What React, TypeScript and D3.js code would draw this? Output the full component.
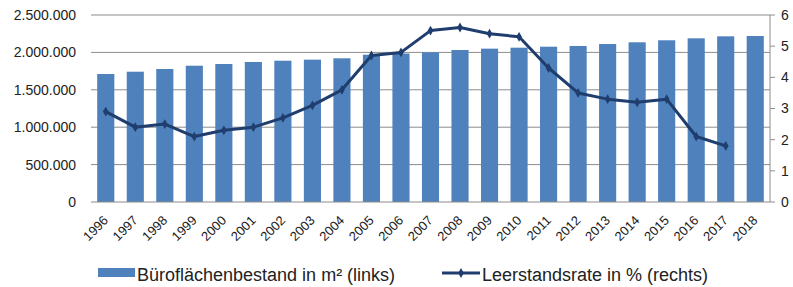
import React from "react";
import * as d3 from "d3";

const years = ["1996","1997","1998","1999","2000","2001","2002","2003","2004","2005","2006","2007","2008","2009","2010","2011","2012","2013","2014","2015","2016","2017","2018"];
const bestand = [1711000,1742000,1778000,1822000,1845000,1872000,1889000,1903000,1921000,1969000,1985000,2001000,2032000,2050000,2063000,2076000,2086000,2112000,2135000,2162000,2188000,2215000,2219000];
const leerstand = [2.9,2.4,2.5,2.1,2.3,2.4,2.7,3.1,3.6,4.7,4.8,5.5,5.6,5.4,5.3,4.3,3.5,3.3,3.2,3.3,2.1,1.8];
const leftTicks = [0,500000,1000000,1500000,2000000,2500000];
const rightTicks = [0,1,2,3,4,5,6];
const legendLabels = ["Büroflächenbestand in m² (links)", "Leerstandsrate in % (rechts)"];

const W = 793, H = 287;
const left = 91, right = 770, top = 15, bottom = 202;
const barColor = "#4F81BD";
const lineColor = "#1F3D6D";
const font = "'Liberation Sans', Arial, sans-serif";

export default function App() {
  const x = d3.scaleBand<string>().domain(years).range([left, right]).paddingInner(0.42).paddingOuter(0.21);
  const yL = d3.scaleLinear().domain([0, 2500000]).range([bottom, top]);
  const yR = d3.scaleLinear().domain([0, 6]).range([bottom, top]);
  const fmt = (v: number) => d3.format(",")(v).replace(/,/g, ".");
  const cx = (y: string) => (x(y) as number) + x.bandwidth() / 2;
  const lineGen = d3.line<number>().x((_, i) => cx(years[i])).y(d => yR(d));
  const diamond = d3.symbol().type(d3.symbolDiamond).size(28)();

  return (
    <svg width={W} height={H} style={{ position: "absolute", left: 0, top: 0 }} fontFamily={font}>
      <rect width={W} height={H} fill="#fff" />
      {leftTicks.slice(1).map(t => (
        <line key={t} x1={left} x2={right} y1={yL(t)} y2={yL(t)} stroke="#8c8c8c" strokeWidth={1} />
      ))}
      {leftTicks.map(t => (
        <text key={t} x={76} y={yL(t)} dy="0.35em" textAnchor="end" fontSize={14} fill="#222">{fmt(t)}</text>
      ))}
      {years.map((y, i) => (
        <rect key={y} x={x(y)} y={yL(bestand[i])} width={x.bandwidth()} height={bottom - yL(bestand[i])} fill={barColor} />
      ))}
      <line x1={left} x2={right} y1={bottom} y2={bottom} stroke="#8c8c8c" strokeWidth={1.2} />
      <line x1={right} x2={right} y1={top} y2={bottom} stroke="#8c8c8c" strokeWidth={1} />
      {rightTicks.map(t => (
        <g key={t}>
          <line x1={right} x2={right + 5} y1={yR(t)} y2={yR(t)} stroke="#8c8c8c" />
          <text x={781} y={yR(t)} dy="0.35em" textAnchor="start" fontSize={14} fill="#222">{t}</text>
        </g>
      ))}
      {years.map(y => (
        <text key={y} transform={`translate(${cx(y)},${bottom + 16}) rotate(-45)`} textAnchor="end" dy="0.35em" fontSize={13} fill="#1a1a1a">{y}</text>
      ))}
      <path d={lineGen(leerstand) || ""} fill="none" stroke={lineColor} strokeWidth={3} strokeLinejoin="round" />
      {leerstand.map((v, i) => (
        <path key={i} d={diamond || ""} transform={`translate(${cx(years[i])},${yR(v)})`} fill={lineColor} />
      ))}
      <rect x={98} y={268} width={37} height={9} fill={barColor} />
      <text x={137} y={281} fontSize={18} fill="#222">{legendLabels[0]}</text>
      <line x1={442} x2={480} y1={273} y2={273} stroke={lineColor} strokeWidth={3} />
      <path d={diamond || ""} transform="translate(461,273)" fill={lineColor} />
      <text x={482} y={281} fontSize={18} fill="#222">{legendLabels[1]}</text>
    </svg>
  );
}
